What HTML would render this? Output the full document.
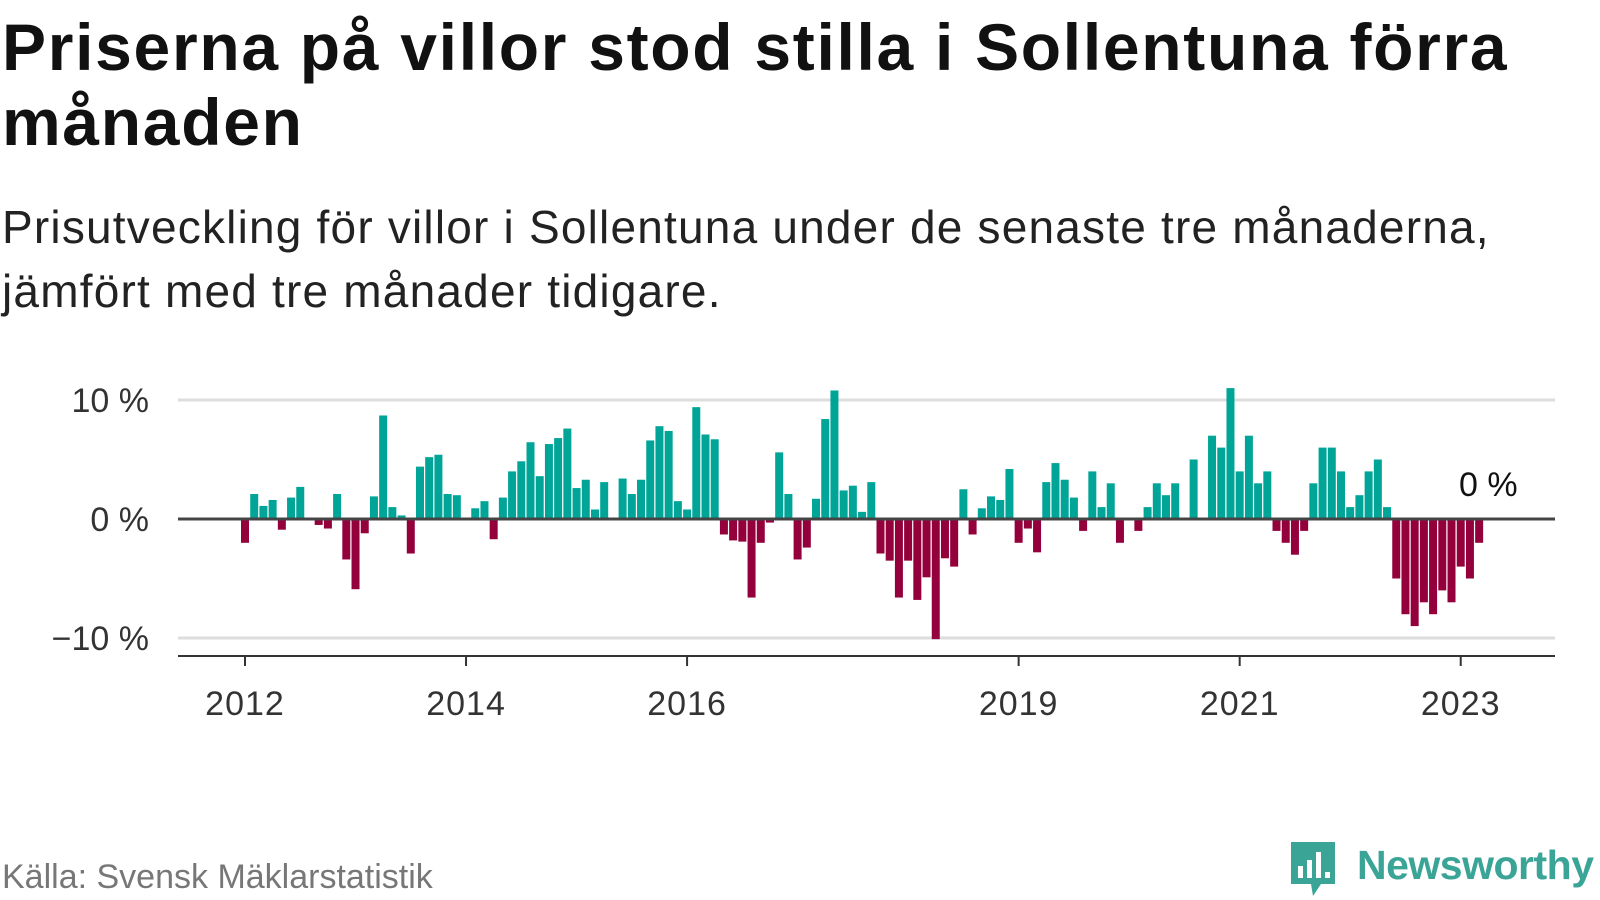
<!DOCTYPE html>
<html><head><meta charset="utf-8">
<style>
html,body{margin:0;padding:0;background:#fff;}
body{width:1600px;height:900px;overflow:hidden;position:relative;font-family:"Liberation Sans",sans-serif;color:#111;}
#title{position:absolute;left:2px;top:10px;margin:0;font-size:66px;line-height:75px;font-weight:bold;letter-spacing:1.7px;width:1590px;}
#subtitle{position:absolute;left:2px;top:195px;margin:0;font-size:46px;line-height:64px;font-weight:normal;color:#222;width:1560px;letter-spacing:1.2px;}
#source{position:absolute;left:2px;top:858px;font-size:34px;color:#777;}
#logo-text{position:absolute;left:1357px;top:842px;font-size:41px;font-weight:bold;color:#3aa596;letter-spacing:-0.5px;}
svg{position:absolute;left:0;top:0;}
</style></head><body>
<h1 id="title">Priserna på villor stod stilla i Sollentuna förra månaden</h1>
<p id="subtitle">Prisutveckling för villor i Sollentuna under de senaste tre månaderna, jämfört med tre månader tidigare.</p>
<svg id="chart" width="1600" height="900"></svg>
<div id="source">Källa: Svensk Mäklarstatistik</div>
<svg width="1600" height="900" style="pointer-events:none">
  <path d="M1291 842 h44 v42 h-14 l-8 12 l-2 -12 h-20 z" fill="#3aa596"/>
  <rect x="1298" y="866" width="5" height="12" fill="#fff"/>
  <rect x="1307" y="860" width="5" height="18" fill="#fff"/>
  <rect x="1316" y="852" width="5" height="26" fill="#fff"/>
  <rect x="1325" y="872" width="5" height="6" fill="#fff"/>
</svg>
<div id="logo-text">Newsworthy</div>
<script>
const values = [-2,2.1,1.1,1.6,-0.9,1.8,2.7,0,-0.5,-0.8,2.1,-3.4,-5.9,-1.2,1.9,8.7,1.0,0.3,-2.9,4.4,5.2,5.4,2.1,2.0,
0,0.9,1.5,-1.7,1.8,4.0,4.85,6.45,3.6,6.3,6.8,7.6,2.6,3.3,0.8,3.1,0,3.4,2.1,3.3,6.6,7.8,7.4,1.5,
0.8,9.4,7.1,6.7,-1.3,-1.8,-1.9,-6.6,-2,-0.3,5.6,2.1,-3.4,-2.4,1.7,8.4,10.8,2.4,2.8,0.6,3.1,-2.9,-3.5,-6.6,
-3.5,-6.8,-4.9,-10.1,-3.3,-4.0,2.5,-1.3,0.9,1.9,1.6,4.2,-2,-0.8,-2.8,3.1,4.7,3.3,1.8,-1.0,4.0,1.0,3.0,-2,
0,-1.0,1.0,3.0,2.0,3.0,0,5.0,0,7.0,6.0,11.0,4.0,7.0,3.0,4.0,-1.0,-2.0,-3.0,-1.0,3.0,6.0,6.0,4.0,1.0,2.0,
4.0,5.0,1.0,-5.0,-8.0,-9.0,-7.0,-8.0,-6.0,-7.0,-4.0,-5.0,-2.0,0];
const yTicks = [10,0,-10];
const yTickLabels = ["10 %","0 %","\u221210 %"];
const xTickIndex = [0,24,48,84,108,132];
const xTickLabels = ["2012","2014","2016","2019","2021","2023"];
const lastLabel = "0 %";

const NS="http://www.w3.org/2000/svg";
const svg=document.getElementById('chart');
const x0=178,x1=1555;
const xScale=i=>245+9.21*i;
const yScale=v=>519-11.9*v;
function mk(t,a){const e=document.createElementNS(NS,t);for(const k in a)e.setAttribute(k,a[k]);svg.appendChild(e);return e;}
yTicks.forEach((t,k)=>{
  if(t!==0){const g=mk('line',{x1:x0,x2:x1,y1:yScale(t),y2:yScale(t),stroke:'#ddd','stroke-width':3});
  
  }
  const l=mk('text',{x:149,y:yScale(t)+12,'text-anchor':'end','font-size':34,fill:'#333','font-family':'Liberation Sans, sans-serif'});
  l.textContent=yTickLabels[k];
  
  
});
values.forEach((v,i)=>{
  if(v===0)return;
  const y=yScale(Math.max(v,0)),h=Math.abs(yScale(v)-yScale(0));
  const r=mk('rect',{x:xScale(i)-4,y:y,width:8,height:h,fill:v>0?'#00a598':'#94003b'});
  
  
});
const z=mk('line',{x1:x0,x2:x1,y1:yScale(0),y2:yScale(0),stroke:'#444','stroke-width':3});


const ax=mk('line',{x1:x0,x2:x1,y1:656,y2:656,stroke:'#333','stroke-width':2});


xTickIndex.forEach((ti,k)=>{
  const tk=mk('line',{x1:xScale(ti),x2:xScale(ti),y1:656,y2:666,stroke:'#333','stroke-width':2});
  
  
  const t=mk('text',{x:xScale(ti),y:715,'text-anchor':'middle','font-size':34,'letter-spacing':1,fill:'#333','font-family':'Liberation Sans, sans-serif'});
  t.textContent=xTickLabels[k];
  
  
});
const ll=mk('text',{x:xScale(values.length-1),y:496,'text-anchor':'middle','font-size':34,fill:'#111','font-family':'Liberation Sans, sans-serif'});
ll.textContent=lastLabel;


</script>
</body></html>
